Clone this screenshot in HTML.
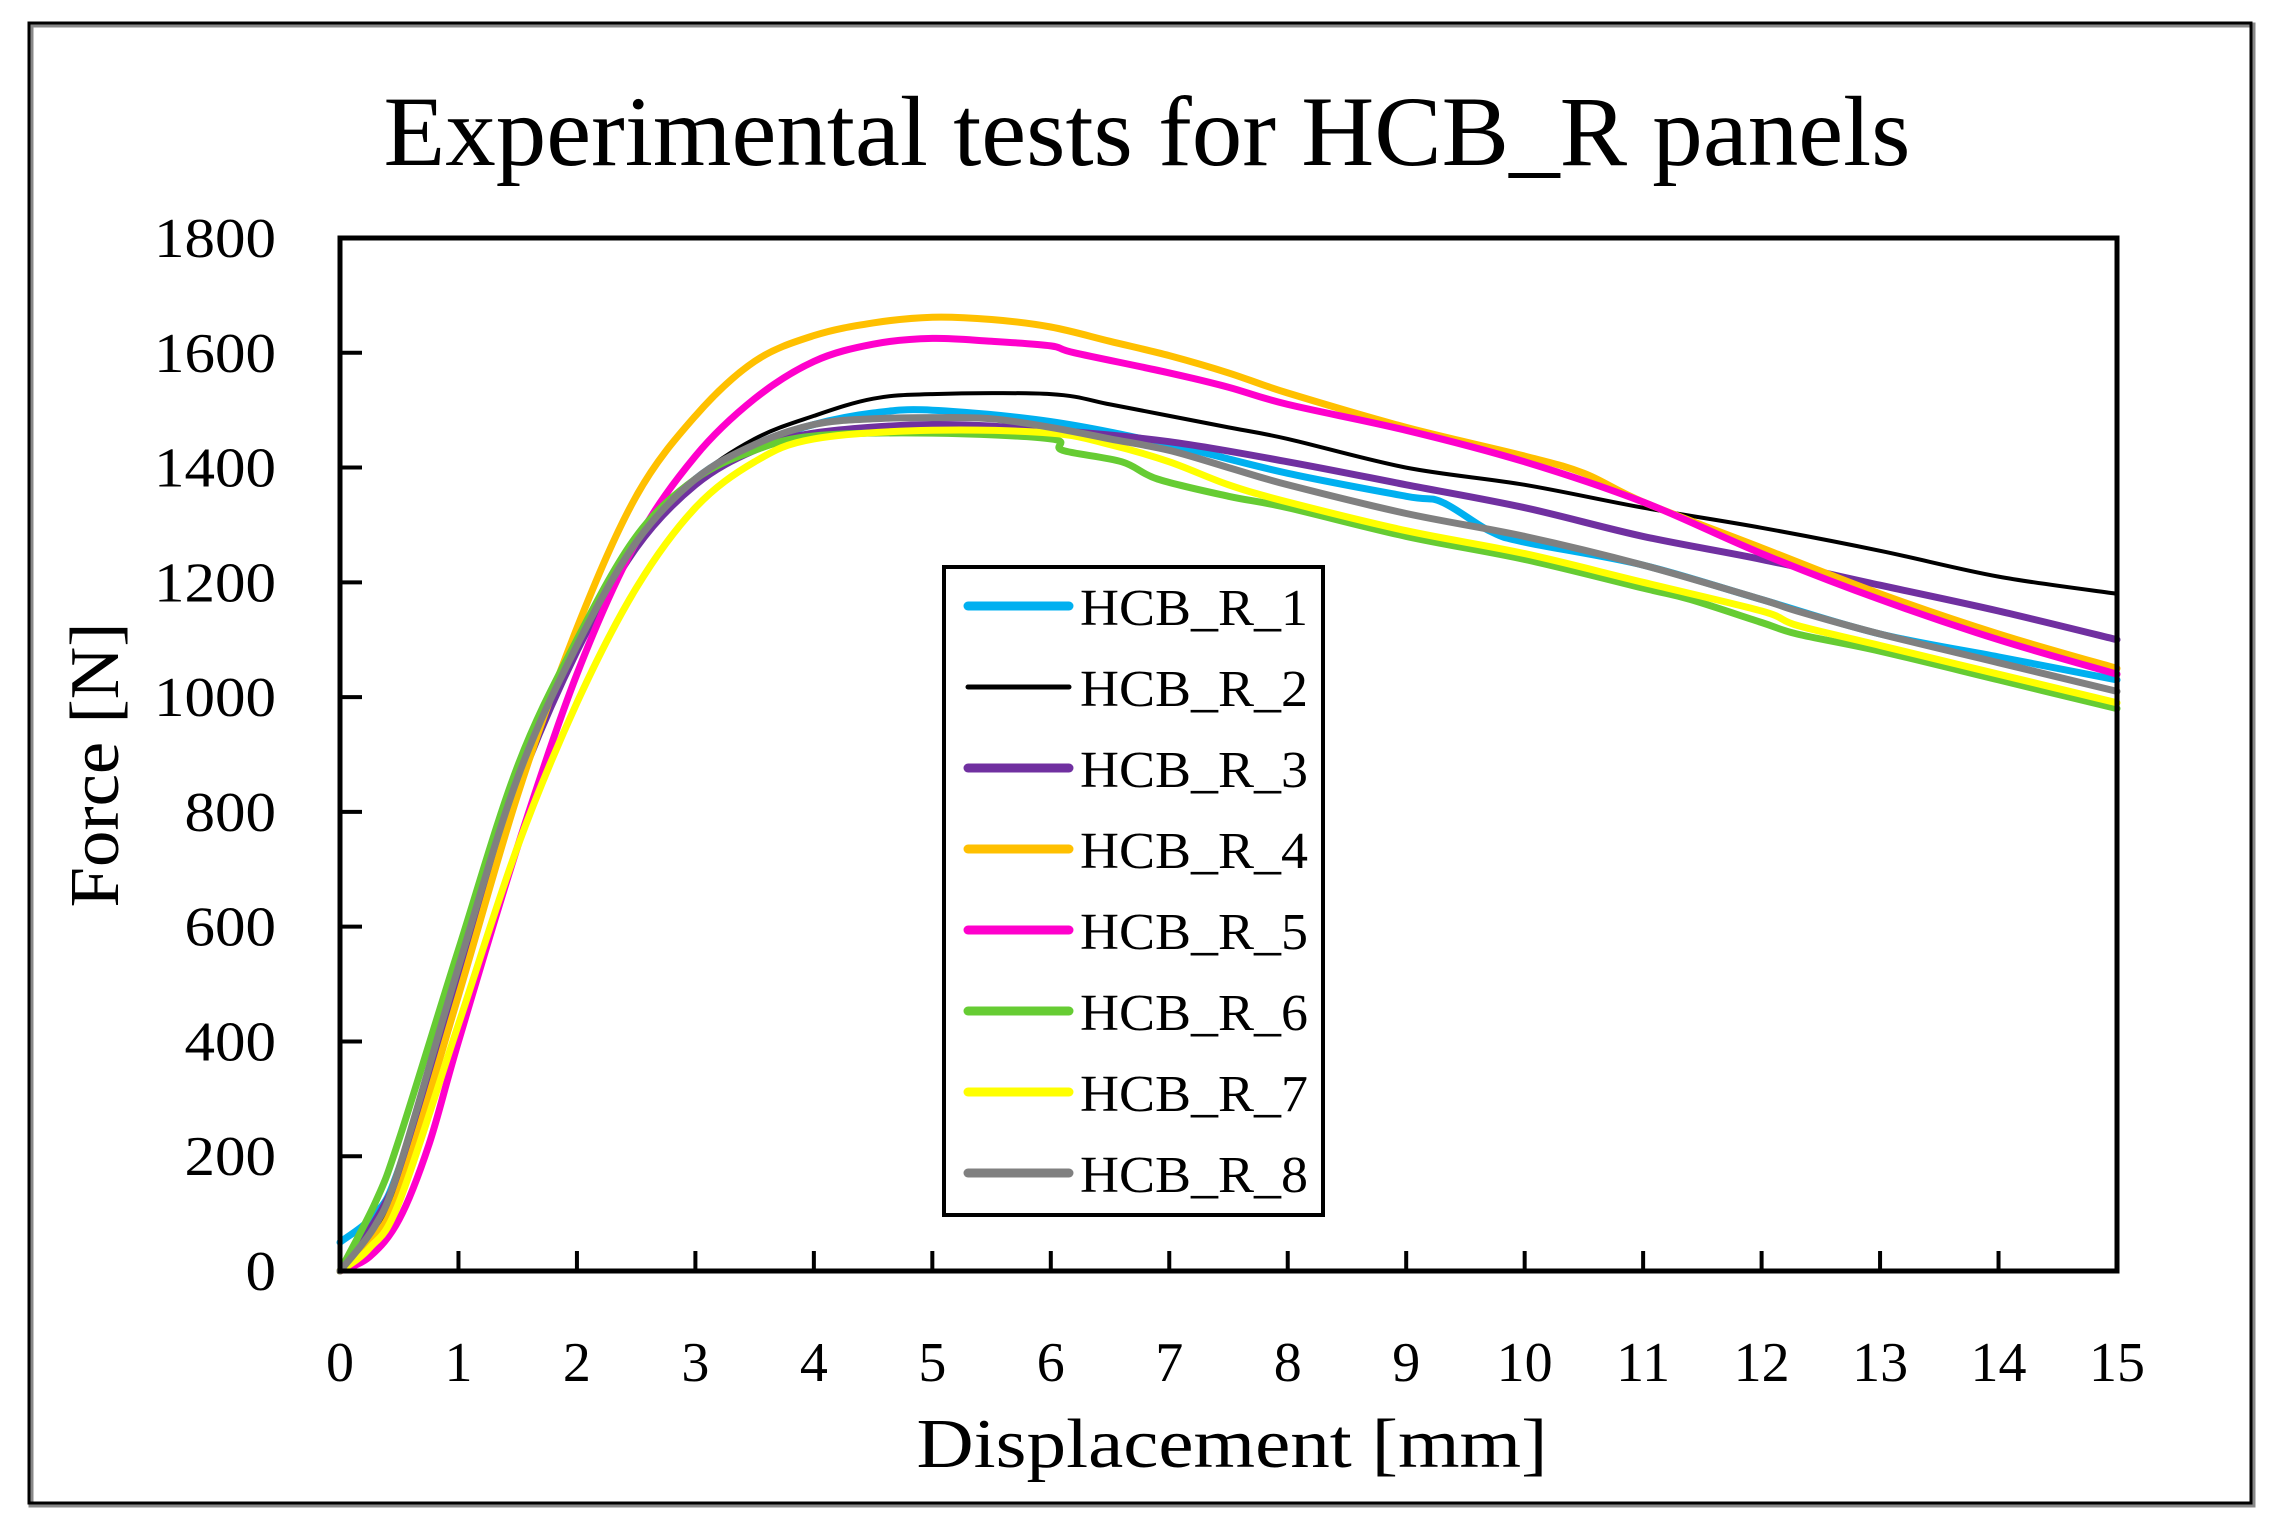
<!DOCTYPE html>
<html><head><meta charset="utf-8"><style>
html,body{margin:0;padding:0;background:#fff}
svg{display:block;font-family:"Liberation Serif",serif}
</style></head><body>
<svg id="chart" width="2283" height="1517" viewBox="0 0 2283 1517">
<rect x="31" y="25" width="2222" height="1480" fill="#fff" stroke="#888" stroke-width="5"/>
<rect x="29" y="23" width="2222" height="1480" fill="none" stroke="#000" stroke-width="3"/>
<text x="1147" y="165" font-size="100" text-anchor="middle" textLength="1527" lengthAdjust="spacingAndGlyphs">Experimental tests for HCB_R panels</text>
<g id="grid"></g>
<g id="series"></g>
<rect x="340" y="238" width="1777" height="1033" fill="none" stroke="#000" stroke-width="5"/>
<g id="axes"></g>
<text transform="translate(118,765) rotate(-90)" font-size="70" text-anchor="middle" textLength="285" lengthAdjust="spacingAndGlyphs">Force [N]</text>
<text x="1232" y="1467" font-size="70" text-anchor="middle" textLength="631" lengthAdjust="spacingAndGlyphs">Displacement [mm]</text>
<g id="legend"></g>
</svg>
<script>
const xTicks=[0,1,2,3,4,5,6,7,8,9,10,11,12,13,14,15];
const yTicks=[0,200,400,600,800,1000,1200,1400,1600,1800];
const seriesNames=["HCB_R_1","HCB_R_2","HCB_R_3","HCB_R_4","HCB_R_5","HCB_R_6","HCB_R_7","HCB_R_8"];
const seriesColors=["#00b0f0","#000000","#7030a0","#ffc000","#ff00cc","#66cc33","#ffff00","#808080"];
const s1x=[0,0.3,0.5,1,1.5,2,2.5,3,3.5,4,4.5,5,6,7,8,9,9.3,9.7,10,11,12,13,14,15];
const s1y=[50,100,180,500,850,1090,1270,1380,1440,1475,1495,1500,1480,1440,1390,1350,1340,1290,1270,1230,1170,1110,1070,1030];
const s2x=[0,0.5,1,1.5,2,2.5,3,3.5,4,4.5,5,6,6.5,7,7.5,8,9,10,11,12,13,14,15];
const s2y=[0,150,500,830,1090,1270,1380,1450,1490,1520,1528,1528,1510,1490,1470,1450,1400,1370,1330,1295,1255,1210,1180];
const s3x=[0,0.5,1,1.5,2,2.5,3,3.5,4,5,6,7,8,9,10,11,12,13,14,15];
const s3y=[0,170,520,840,1080,1260,1370,1430,1460,1475,1465,1445,1410,1370,1330,1280,1240,1195,1150,1100];
const s4x=[0,0.25,0.5,1,1.5,2,2.5,3,3.5,4,4.5,5,5.5,6,6.5,7,7.5,8,9,10,10.5,11,12,13,14,15];
const s4y=[0,50,140,480,830,1120,1350,1490,1585,1630,1652,1662,1658,1645,1620,1595,1565,1530,1470,1420,1390,1340,1260,1180,1110,1050];
const s5x=[0,0.25,0.5,0.75,1,1.5,2,2.5,3,3.5,4,4.5,5,5.5,6,6.2,7,7.5,8,9,10,11,12,13,14,15];
const s5y=[0,25,90,220,400,740,1040,1270,1420,1520,1585,1615,1625,1620,1612,1600,1565,1540,1510,1465,1410,1340,1250,1170,1100,1040];
const s6x=[0,0.3,0.5,1,1.5,2,2.5,3,3.5,4,5,6,6.1,6.6,6.9,7.5,8,9,10,11,11.4,12,12.3,13,14,15];
const s6y=[0,120,230,560,880,1100,1280,1380,1430,1455,1460,1450,1430,1410,1380,1350,1330,1280,1240,1190,1170,1130,1110,1080,1030,980];
const s7x=[0,0.25,0.5,1,1.5,2,2.5,3,3.5,4,5,6,6.5,7,7.5,8,9,10,11,12,12.3,13,14,15];
const s7y=[0,40,120,430,740,990,1190,1330,1410,1450,1465,1460,1440,1410,1370,1340,1290,1250,1200,1150,1125,1090,1040,990];
const s8x=[0,0.3,0.5,1,1.5,2,2.5,3,3.5,4,4.5,5,5.5,6,6.5,7,7.5,8,9,10,11,12,12.3,13,14,15];
const s8y=[0,80,180,530,860,1090,1270,1380,1440,1475,1485,1487,1485,1470,1450,1430,1400,1370,1320,1280,1230,1170,1150,1110,1060,1010];
const allX=[s1x,s2x,s3x,s4x,s5x,s6x,s7x,s8x];
const allY=[s1y,s2y,s3y,s4y,s5y,s6y,s7y,s8y];

const X0=340,X1=2117,Y0=1271,Y1=238;
function sx(v){return X0+(v-0)/(15-0)*(X1-X0);}
function sy(v){return Y0-(v-0)/(1800-0)*(Y0-Y1);}
const NS="http://www.w3.org/2000/svg";
function mk(tag,attrs,parent){const e=document.createElementNS(NS,tag);for(const k in attrs)e.setAttribute(k,attrs[k]);parent.appendChild(e);return e;}
function smoothPath(P){
  let d='M'+P[0][0].toFixed(1)+','+P[0][1].toFixed(1);
  for(let i=0;i<P.length-1;i++){
    const p0=P[i-1]||P[i],p1=P[i],p2=P[i+1],p3=P[i+2]||P[i+1];
    const c1x=p1[0]+(p2[0]-p0[0])/6,c1y=p1[1]+(p2[1]-p0[1])/6;
    const c2x=p2[0]-(p3[0]-p1[0])/6,c2y=p2[1]-(p3[1]-p1[1])/6;
    d+=' C'+c1x.toFixed(1)+','+c1y.toFixed(1)+' '+c2x.toFixed(1)+','+c2y.toFixed(1)+' '+p2[0].toFixed(1)+','+p2[1].toFixed(1);
  }
  return d;
}

const axes=document.getElementById('axes');
xTicks.forEach(t=>{
  const l=mk('line',{x1:sx(t),x2:sx(t),y1:Y0,y2:Y0-20,stroke:'#000','stroke-width':4},axes);
  
  
  const tx=mk('text',{x:sx(t),y:Y0+110,'font-size':56,'text-anchor':'middle'},axes);
  tx.textContent=t;
  
  
});
yTicks.forEach(t=>{
  const l=mk('line',{x1:X0,x2:X0+22,y1:sy(t),y2:sy(t),stroke:'#000','stroke-width':4},axes);
  
  
  const s=String(t);
  const tx=mk('text',{x:276,y:sy(t)+19,'font-size':56,'text-anchor':'end',textLength:s.length*30.5,lengthAdjust:'spacingAndGlyphs'},axes);
  tx.textContent=t;
  
  
});

const sg=document.getElementById('series');
allX.forEach((xs,i)=>{
  const P=xs.map((x,j)=>[sx(x),sy(allY[i][j])]);
  const p=mk('path',{d:smoothPath(P),fill:'none',stroke:seriesColors[i],'stroke-width':i===1?4:7,'stroke-linejoin':'round','stroke-linecap':'round'},sg);
  
  
});

const lg=document.getElementById('legend');
const box=mk('rect',{x:944,y:567,width:379,height:648,fill:'#fff',stroke:'#000','stroke-width':4},lg);


seriesNames.forEach((n,i)=>{
  const y=606+i*81;
  const l=mk('line',{x1:968,x2:1069,y1:y,y2:y,stroke:seriesColors[i],'stroke-width':i===1?5:9,'stroke-linecap':'round'},lg);
  
  
  const t=mk('text',{x:1080,y:y+19,'font-size':52,textLength:228,lengthAdjust:'spacingAndGlyphs'},lg);
  t.textContent=n;
  
  
});
</script>
</body></html>
